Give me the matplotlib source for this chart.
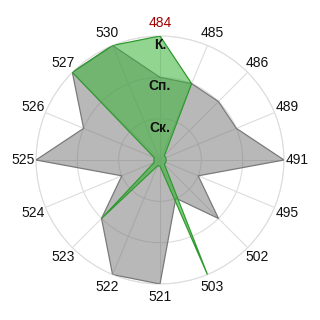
import numpy as np
import matplotlib
matplotlib.use("Agg")
import matplotlib.pyplot as plt

categories = ["484", "485", "486", "489", "491", "495", "502", "503",
              "521", "522", "523", "524", "525", "526", "527", "530"]
gray_vals = [2, 2, 2, 2, 3, 1, 2, 1, 3, 3, 2, 1, 3, 2, 3, 3]
green_vals = [3, 2, 0.15, 0.15, 0.15, 0.15, 0.15, 3, 0.15, 0.15, 2, 0.15, 0.15, 0.15, 3, 3]
level_labels = ["Ск.", "Сп.", "К."]
level_values = [1, 2, 3]

plt.rcParams['font.family'] = ['Liberation Sans', 'DejaVu Sans']

fig = plt.figure(figsize=(3.2, 3.2), dpi=100)
ax = fig.add_axes([36/320, 36/320, 248/320, 248/320], projection='polar')
ax.set_theta_zero_location('N')
ax.set_theta_direction(-1)

n = len(categories)
theta = np.arange(n) * 2 * np.pi / n
tc = np.append(theta, theta[0])

g = np.append(gray_vals, gray_vals[0])
ax.fill(tc, g, color=(0.45, 0.45, 0.45), alpha=0.5, lw=0, zorder=2)
ax.plot(tc, g, color='#7a7a7a', lw=0.9, zorder=3)

gr = np.append(green_vals, green_vals[0])
ax.fill(tc, gr, color=(0.22, 0.70, 0.22), alpha=0.55, lw=0, zorder=4)
ax.plot(tc, gr, color='#2f9a2f', lw=0.9, zorder=5)

ax.set_ylim(0, 3)
ax.set_yticks(level_values)
ax.set_yticklabels([])
ax.set_xticks(theta)
ax.set_xticklabels(categories, fontsize=10, color='#111111')
ax.get_xticklabels()[0].set_color('#a00000')
ax.tick_params(axis='x', pad=-1)
ax.grid(color='#dddddd', lw=0.8, zorder=1)
ax.set_axisbelow(True)
ax.spines['polar'].set_color('#dddddd')
ax.spines['polar'].set_linewidth(0.8)

for lab, v in zip(level_labels, level_values):
    ax.text(0, v - 0.22, lab, ha='center', va='center', fontsize=10,
            fontweight='bold', color='#111111', zorder=6)

fig.savefig('out.png', dpi=100)
